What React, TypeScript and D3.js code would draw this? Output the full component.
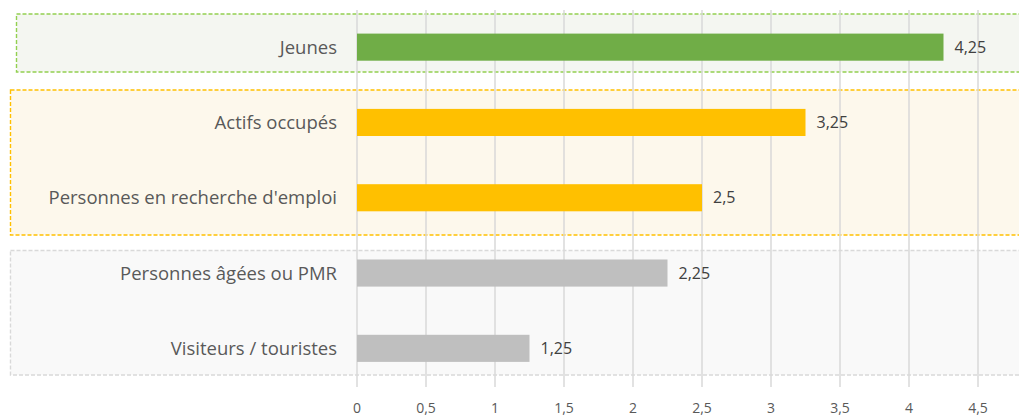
import React from "react";
import * as d3 from "d3";

const categories = ["Jeunes", "Actifs occupés", "Personnes en recherche d'emploi", "Personnes âgées ou PMR", "Visiteurs / touristes"];
const values = [4.25, 3.25, 2.5, 2.25, 1.25];
const groups = ["green", "orange", "orange", "grey", "grey"];
const tickValues = [0, 0.5, 1, 1.5, 2, 2.5, 3, 3.5, 4, 4.5];

const barColors: Record<string, string> = { green: "#70ad47", orange: "#ffc000", grey: "#bfbfbf" };

const W = 1019, H = 416;
const FONT = "'Open Sans', sans-serif";

export default function App() {
  const x = d3.scaleLinear().domain([0, 4.5]).range([357, 978]);
  const y = d3.scaleBand().domain(categories).range([9.5, 386]).paddingInner(0.64).paddingOuter(0.32);
  const fmt = (v: number) => String(v).replace(".", ",");

  const boxes = [
    { x: 16.5, y: 14, w: 1010, h: 58, fill: "#f4f6f1", stroke: "#92d050" },
    { x: 10.5, y: 90, w: 1015, h: 145, fill: "#fdf8ec", stroke: "#ffc000" },
    { x: 10.5, y: 250.5, w: 1015, h: 124.5, fill: "#f9f9f9", stroke: "#d9d9d9" },
  ];

  return (
    <svg width={W} height={H} style={{ position: "absolute", left: 0, top: 0, background: "#fff" }}>
      {boxes.map((b, i) => (
        <rect key={i} x={b.x} y={b.y} width={b.w} height={b.h} fill={b.fill} stroke={b.stroke} strokeWidth={1.4} strokeDasharray="4 2" />
      ))}
      {tickValues.map((t) => (
        <line key={t} x1={x(t)} x2={x(t)} y1={10} y2={387} stroke="#d9d9d9" strokeWidth={1.5} />
      ))}
      {categories.map((c, i) => (
        <g key={c}>
          <rect x={x(0)} y={y(c)} width={x(values[i]) - x(0)} height={y.bandwidth()} fill={barColors[groups[i]]} />
          <text x={337} y={y(c)! + y.bandwidth() / 2} dy="0.35em" textAnchor="end" fontFamily={FONT} fontSize={18.5} fill="#595959" textLength={undefined}>{c}</text>
          <text x={x(values[i]) + 11} y={y(c)! + y.bandwidth() / 2} dy="0.35em" fontFamily={FONT} fontSize={16} fill="#404040">{fmt(values[i])}</text>
        </g>
      ))}
      {tickValues.map((t) => (
        <text key={t} x={x(t)} y={408} dy="0.35em" textAnchor="middle" fontFamily={FONT} fontSize={14} fill="#595959">{fmt(t)}</text>
      ))}
    </svg>
  );
}
